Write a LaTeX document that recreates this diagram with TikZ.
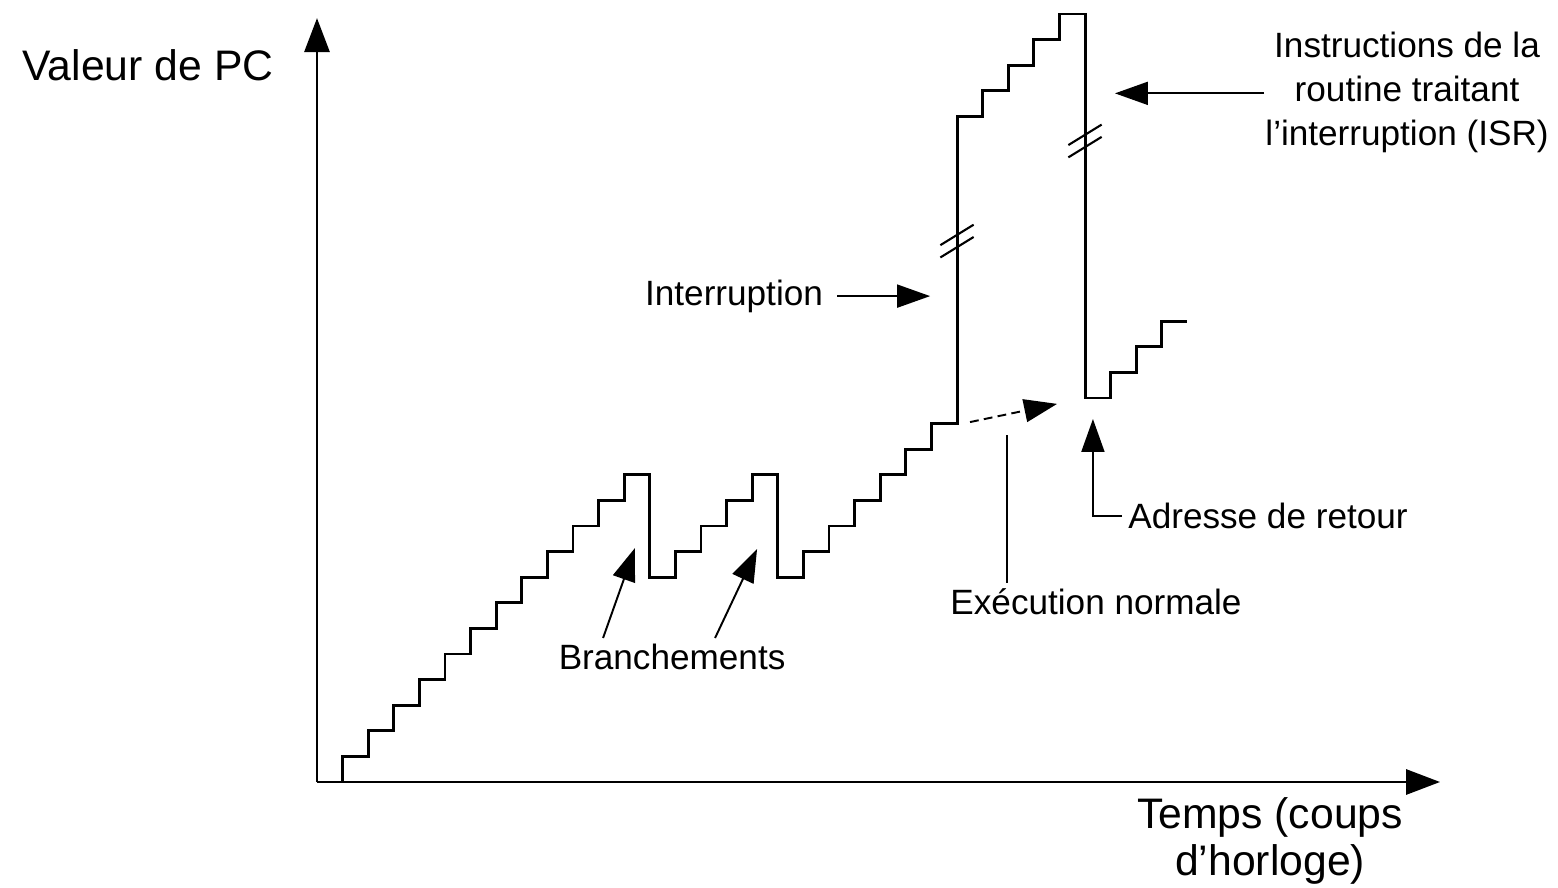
\documentclass[tikz,border=0pt]{standalone}
\usepackage{fontspec}
\setmainfont{Liberation Sans}
\usetikzlibrary{arrows.meta, calc}

\begin{document}
\begin{tikzpicture}[x=0.512cm, y=0.512cm,
  axis/.style={line width=1.7pt, -{Triangle[length=0.68cm, width=0.5cm]}},
  pcline/.style={line width=1.7pt},
  brk/.style={line width=1.2pt},
  pointer/.style={line width=1.1pt, -{Triangle[length=0.66cm, width=0.46cm]}},
  bigtxt/.style={font=\fontsize{24.3}{26.7}\selectfont, align=center},
  txt/.style={font=\fontsize{20}{25}\selectfont, align=center}]
\useasboundingbox (-12.383,-4.102) rectangle (48.477,30.547);

% axes
\coordinate (o) at (0,0);
\coordinate (ytop) at (0,29.84);
\coordinate (xend) at (43.87,0);
\draw[axis] (o) -- (ytop);
\draw[axis] (o) -- (xend);

% program counter
\draw[pcline] (o) -| (1,1) -| (2,2) -| (3,3) -| (4,4) -| (5,5) -| (6,6)
  -| (7,7) -| (8,8) -| (9,9) -| (10,10) -| (11,11) -| (12,12)
  -| (13,8) -| (14,9) -| (15,10) -| (16,11) -| (17,12)
  -| (18,8) -| (19,9) -| (20,10) -| (21,11) -| (22,12) -| (23,13) -| (24,14)
  -| (25,26) -| (26,27) -| (27,28) -| (28,29) -| (29,30)
  -| (30,15) -| (31,16) -| (32,17) -| (33,18) -- (34,18);

% breaks
\coordinate (brk1) at (25,21.13);
\coordinate (brk2) at (30,25.04);
\draw[brk] ($(brk1)+(-0.65,-0.16)$) -- ($(brk1)+(0.65,0.64)$);
\draw[brk] ($(brk1)+(-0.65,-0.64)$) -- ($(brk1)+(0.65,0.16)$);
\draw[brk] ($(brk2)+(-0.65,-0.16)$) -- ($(brk2)+(0.65,0.64)$);
\draw[brk] ($(brk2)+(-0.65,-0.64)$) -- ($(brk2)+(0.65,0.16)$);

% labels
\node[bigtxt] (pc) at (-6.6,28.0) {Valeur de PC};
\node[bigtxt] (temps) at (37.23,-2.32) {Temps (coups\\d’horloge)};
\node[txt] (isr) at (42.58,26.95) {Instructions de la\\routine traitant\\l’interruption (ISR)};
\node[txt] (interr) at (16.29,18.98) {Interruption};
\node[txt] (execnorm) at (30.43,7.03) {Exécution normale};
\node[txt, anchor=west] (adresse) at (31.45,10.39) {Adresse de retour};
\node[txt] (branch) at (13.87,4.88) {Branchements};

% arrows
\coordinate (interrtip) at (23.95,18.98);
\coordinate (isrtip) at (31.17,26.9);
\coordinate (dashstart) at (25.51,14.06);
\coordinate (dashtip) at (28.91,14.77);
\coordinate (entop) at (26.95,13.55);
\coordinate (adrtip) at (30.31,14.18);
\coordinate (brtip1) at (12.42,9.14);
\coordinate (brtip2) at (17.19,9.10);

\draw[pointer, shorten <=0.16cm] (interr.east) -- (interrtip);
\draw[pointer, shorten <=-0.1cm] (isr.west |- isrtip) -- (isrtip);
\draw[pointer, dash pattern=on 5pt off 3pt] (dashstart) -- (dashtip);
\draw[line width=1.1pt] (execnorm.north -| entop) -- (entop);
\draw[pointer] (adresse.west) -| (adrtip);
\draw[pointer] ([xshift=-1.38cm]branch.north) -- (brtip1);
\draw[pointer] ([xshift=0.86cm]branch.north) -- (brtip2);
\end{tikzpicture}
\end{document}
